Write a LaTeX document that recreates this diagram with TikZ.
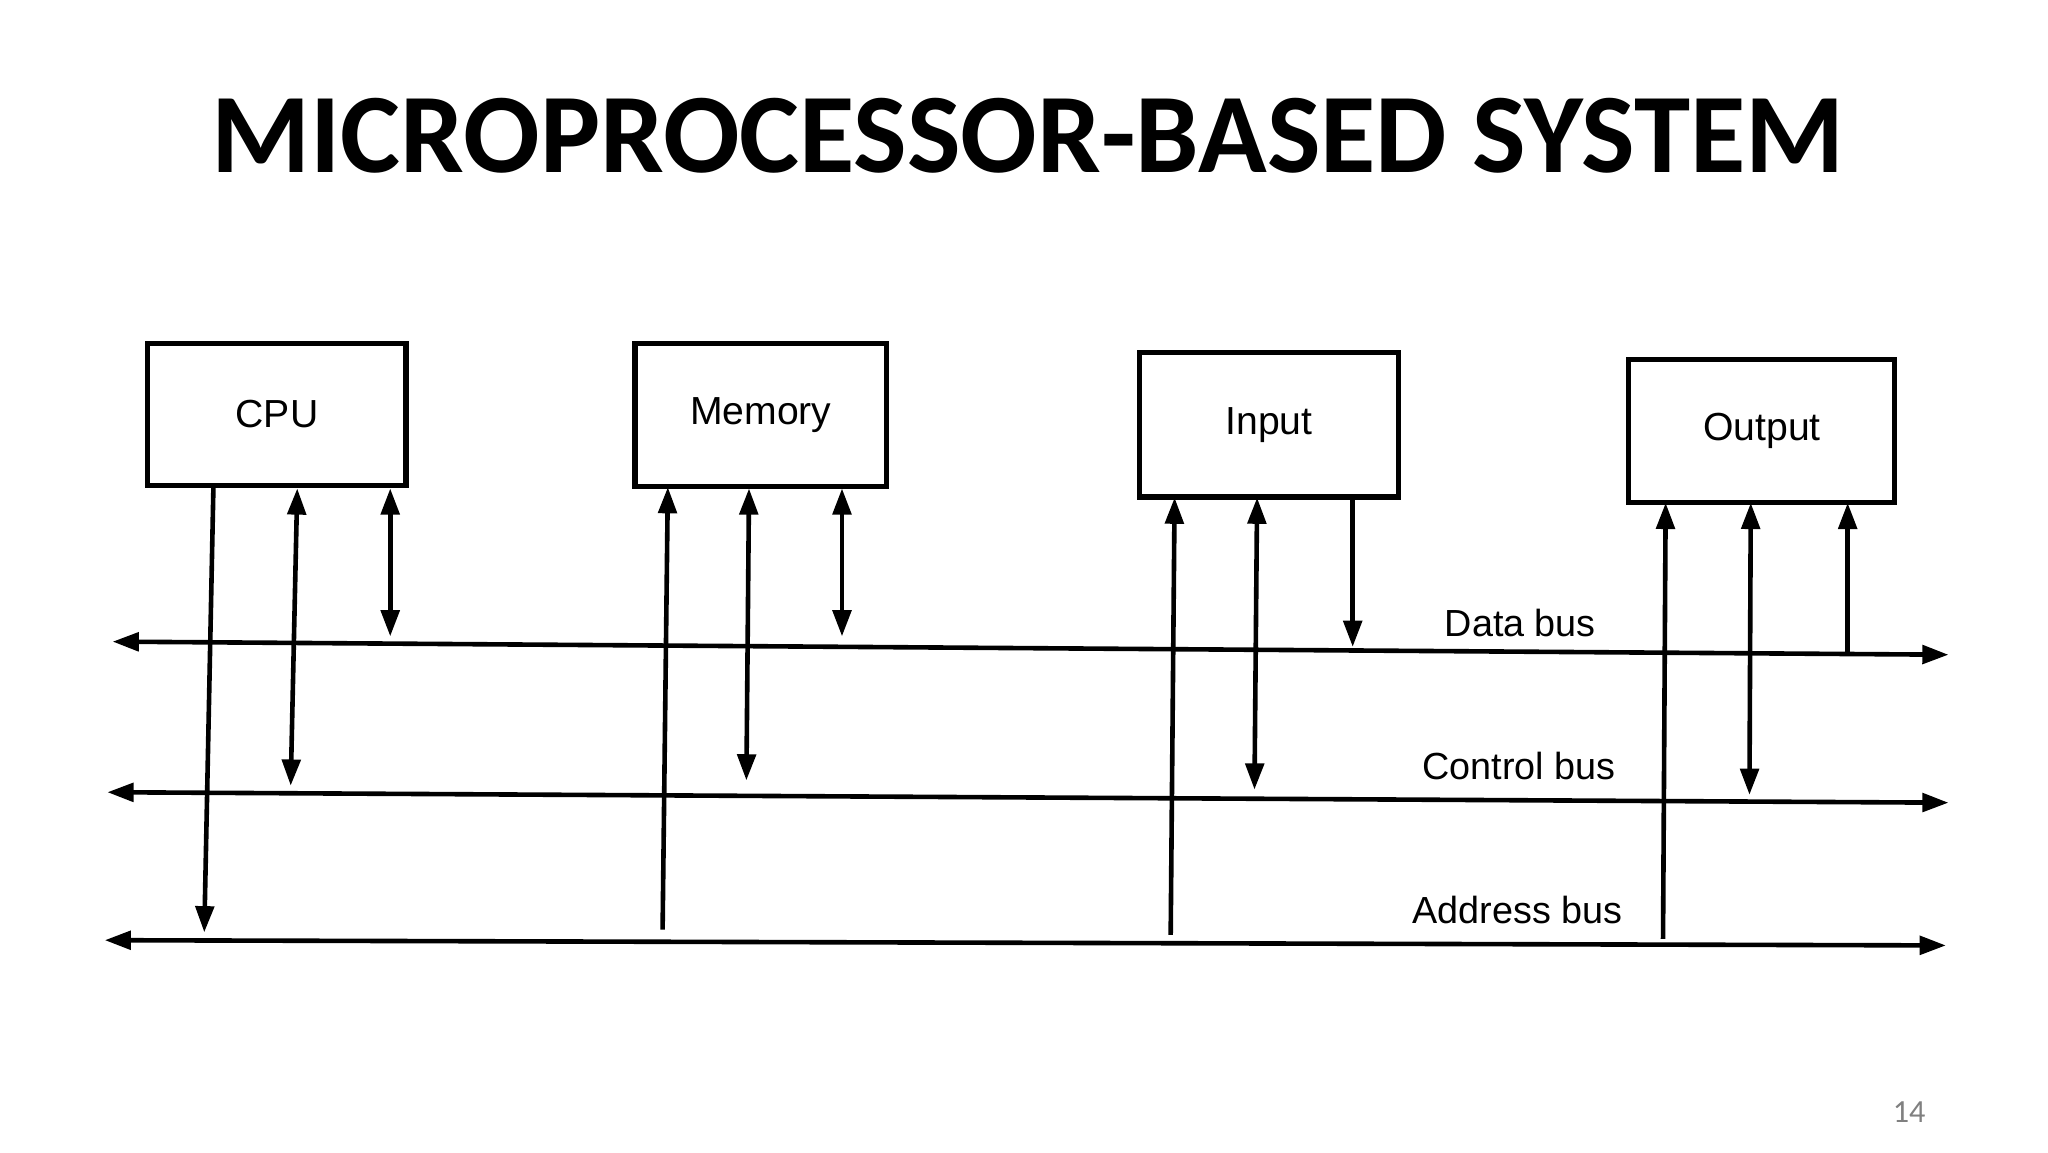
\documentclass[tikz,border=0pt]{standalone}
\usepackage{fontspec}
\setmainfont{Liberation Sans}
\newfontfamily\titlefont{Carlito}
\usetikzlibrary{arrows.meta}
\begin{document}
\begin{tikzpicture}[x=0.01cm,y=-0.01cm,
  box/.style={draw,line width=1.1pt,inner sep=0pt,font=\fontsize{8.5}{10}\selectfont},
  ln/.style={line width=1pt},
  tip/.style={-{Triangle[length=0.2cm,width=0.14cm]}},
  tips/.style={{Triangle[length=0.2cm,width=0.14cm]}-{Triangle[length=0.2cm,width=0.14cm]}},
  lbl/.style={font=\fontsize{8.2}{10}\selectfont}]
\useasboundingbox (0,0) rectangle (1564,880);
\node[font=\titlefont\bfseries\fontsize{24.6}{30}\selectfont] (title) at (785,104) {MICROPROCESSOR-BASED SYSTEM};
% boxes
\node[box,minimum width=1.97cm,minimum height=1.08cm] (cpu) at (211.5,316.5) {CPU};
\node[box,minimum width=1.92cm,minimum height=1.09cm] (mem) at (581,317) {Memory};
\node[box,minimum width=1.98cm,minimum height=1.10cm] (inp) at (969,324.5) {Input};
\node[box,minimum width=2.03cm,minimum height=1.09cm] (out) at (1345.5,329) {Output};
% buses
\coordinate (dL) at (86,490); \coordinate (dR) at (1488,500);
\coordinate (cL) at (82,605); \coordinate (cR) at (1488,613);
\coordinate (aL) at (80,718); \coordinate (aR) at (1486,722);
\draw[ln,tips] (dL) -- (dR);
\draw[ln,tips] (cL) -- (cR);
\draw[ln,tips] (aL) -- (aR);
\node[lbl] (dbl) at (1161,476) {Data bus};
\node[lbl] (cbl) at (1160,585) {Control bus};
\node[lbl] (abl) at (1159,695) {Address bus};
% CPU
\coordinate (c1) at (163,371); \coordinate (c1e) at (156,712);
\coordinate (c2) at (227,373); \coordinate (c2e) at (222,600);
\coordinate (c3) at (298,373); \coordinate (c3e) at (298,486);
\draw[ln,tip] (c1) -- (c1e);
\draw[ln,tips] (c2) -- (c2e);
\draw[ln,tips] (c3) -- (c3e);
% Memory
\coordinate (m1) at (510,372); \coordinate (m1e) at (506,710);
\coordinate (m2) at (572,373); \coordinate (m2e) at (570,596);
\coordinate (m3) at (643,373); \coordinate (m3e) at (643,486);
\draw[ln,tip] (m1e) -- (m1);
\draw[ln,tips] (m2) -- (m2e);
\draw[ln,tips] (m3) -- (m3e);
% Input
\coordinate (i1) at (897,380); \coordinate (i1e) at (894,714);
\coordinate (i2) at (960,380); \coordinate (i2e) at (958,603);
\coordinate (i3) at (1033,380); \coordinate (i3e) at (1033,494);
\draw[ln,tip] (i1e) -- (i1);
\draw[ln,tips] (i2) -- (i2e);
\draw[ln,tip] (i3) -- (i3e);
% Output
\coordinate (o1) at (1272,384); \coordinate (o1e) at (1270,717);
\coordinate (o2) at (1337,384); \coordinate (o2e) at (1336,607);
\coordinate (o3) at (1411,384); \coordinate (o3e) at (1411,498);
\draw[ln,tip] (o1e) -- (o1);
\draw[ln,tips] (o2) -- (o2e);
\draw[ln,tip] (o3e) -- (o3);
\node[text=gray,font=\titlefont\fontsize{7}{8}\selectfont] (pg) at (1458,849) {14};
\end{tikzpicture}
\end{document}
